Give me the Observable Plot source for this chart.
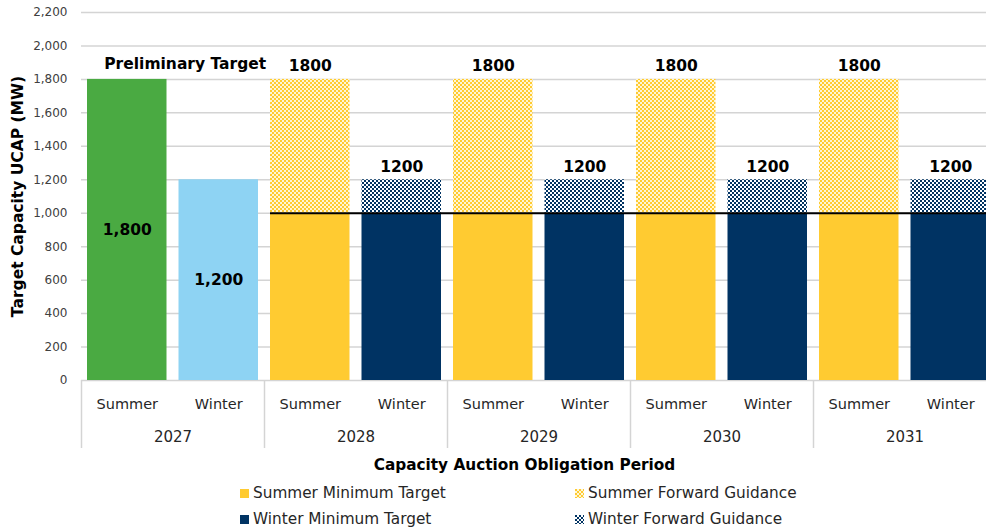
<!DOCTYPE html>
<html>
<head>
<meta charset="utf-8">
<script src="https://cdn.jsdelivr.net/npm/d3@7"></script>
<script src="https://cdn.jsdelivr.net/npm/@observablehq/plot@0.6"></script>
<style>
  html, body { margin: 0; padding: 0; background: #fff; overflow: hidden; }
  #wrap { position: relative; width: 986px; height: 529px; overflow: hidden; font-family: "DejaVu Sans", sans-serif; }
  #chart { width: 996px; height: 478px; }
  #chart svg { max-width: none !important; display: block; }
  #legend { position: absolute; left: 0; top: 478px; width: 986px; height: 51px; }
  .item { position: absolute; display: flex; align-items: center; font-size: 15.3px; color: #262626; white-space: nowrap; }
  .item svg { margin-right: 4px; }
</style>
</head>
<body>
<svg width="0" height="0" style="position:absolute">
  <defs>
    <pattern id="sumFwd" width="4" height="4" patternUnits="userSpaceOnUse">
      <rect width="4" height="4" fill="#fff6d6"/>
      <rect x="0" y="0" width="2" height="2" fill="#ffcb31"/>
      <rect x="2" y="2" width="2" height="2" fill="#ffcb31"/>
    </pattern>
    <pattern id="winFwd" width="4" height="4" patternUnits="userSpaceOnUse">
      <rect width="4" height="4" fill="#ffffff"/>
      <rect x="0" y="0" width="2" height="2" fill="#003363"/>
      <rect x="2" y="2" width="2" height="2" fill="#003363"/>
    </pattern>
  </defs>
</svg>
<div id="wrap">
  <div id="chart"></div>
  <div id="legend"></div>
</div>
<script>
// ---- data ----
const years = ["2027", "2028", "2029", "2030", "2031"];
const seasons = ["Summer", "Winter"];
const preliminary = [1800, 1200];                 // 2027 Summer, Winter
const minimumSummer = [null, 1000, 1000, 1000, 1000];
const minimumWinter = [null, 1000, 1000, 1000, 1000];
const guidanceSummer = [null, 1800, 1800, 1800, 1800];
const guidanceWinter = [null, 1200, 1200, 1200, 1200];
const minimumLine = 1000;
const yTicks = [0, 200, 400, 600, 800, 1000, 1200, 1400, 1600, 1800, 2000, 2200];
const prelimLabel = "Preliminary Target";
const yTitle = "Target Capacity UCAP (MW)";
const xTitle = "Capacity Auction Obligation Period";
const legendItems = [
  {label: "Summer Minimum Target", fill: "#ffcb31"},
  {label: "Summer Forward Guidance", fill: "url(#sumFwd)"},
  {label: "Winter Minimum Target", fill: "#003363"},
  {label: "Winter Forward Guidance", fill: "url(#winFwd)"}
];

const colors = {
  prelimSummer: "#4aaa42", prelimWinter: "#8ed3f3",
  minSummer: "#ffcb31", minWinter: "#003363",
  fwdSummer: "url(#sumFwd)", fwdWinter: "url(#winFwd)"
};
const fmt = d3.format(",");

// ---- build tables ----
const rects = [], seasonLabels = [], yearLabels = [], topLabels = [], innerLabels = [];
years.forEach((yr, yi) => {
  yearLabels.push({x: yi * 2 + 1, text: yr});
  seasons.forEach((s, si) => {
    const idx = yi * 2 + si;
    seasonLabels.push({x: idx + 0.5, text: s});
    if (yi === 0) {
      const v = preliminary[si];
      rects.push({x1: idx, x2: idx + 1, y1: 0, y2: v, fill: si ? colors.prelimWinter : colors.prelimSummer});
      innerLabels.push({x: idx + 0.5, y: v / 2, text: fmt(v)});
    } else {
      const mn = si ? minimumWinter[yi] : minimumSummer[yi];
      const tot = si ? guidanceWinter[yi] : guidanceSummer[yi];
      rects.push({x1: idx, x2: idx + 1, y1: 0, y2: mn, fill: si ? colors.minWinter : colors.minSummer});
      rects.push({x1: idx, x2: idx + 1, y1: mn, y2: tot, fill: si ? colors.fwdWinter : colors.fwdSummer});
      topLabels.push({x: idx + 0.5, y: tot, text: String(tot)});
    }
  });
});
const boundaries = years.map((_, i) => i * 2).concat([years.length * 2]);

const chart = Plot.plot({
  width: 996,
  height: 478,
  marginLeft: 81,
  marginRight: 0,
  marginTop: 12,
  marginBottom: 98,
  style: {fontFamily: "DejaVu Sans, sans-serif", fontSize: "14.5px", color: "#262626", background: "transparent", maxWidth: "none"},
  x: {type: "linear", domain: [0, 10], axis: null},
  y: {domain: [0, 2200], axis: null},
  color: {type: "identity"},
  marks: [
    Plot.gridY(yTicks, {stroke: "#d4d4d4", strokeOpacity: 1, strokeWidth: 1.5}),
    Plot.axisY({ticks: yTicks, tickFormat: fmt, tickSize: 0, tickPadding: 14, fontSize: 12, label: null, fill: "#404040"}),
    Plot.rectY(rects, {x1: "x1", x2: "x2", y1: "y1", y2: "y2", fill: "fill", insetLeft: 6, insetRight: 6}),
    Plot.ruleY([minimumLine], {x1: 2, x2: 10, insetLeft: 6, stroke: "#000", strokeWidth: 2}),
    Plot.ruleX(boundaries, {x: d => d, y1: 0, y2: 0, insetBottom: -68, stroke: "#d4d4d4", strokeWidth: 1.5}),
    Plot.text(seasonLabels, {x: "x", y: () => 0, text: "text", dy: 24, fontSize: 14.5, fill: "#262626"}),
    Plot.text(yearLabels, {x: "x", y: () => 0, text: "text", dy: 57, fontSize: 15, fill: "#262626"}),
    Plot.text(topLabels, {x: "x", y: "y", text: "text", dy: -13, fontSize: 15.5, fontWeight: "bold", fill: "#000"}),
    Plot.text(innerLabels, {x: "x", y: "y", text: "text", fontSize: 15.5, fontWeight: "bold", fill: "#000"}),
    Plot.text([prelimLabel], {x: () => 0.5, y: () => preliminary[0], text: d => d, textAnchor: "start", dx: -23, dy: -15.5, fontSize: 15.5, fontWeight: "bold", fill: "#000"}),
    Plot.text([yTitle], {frameAnchor: "left", text: d => d, rotate: -90, textAnchor: "middle", lineAnchor: "middle", dx: -63, fontSize: 15.5, fontWeight: "bold", fill: "#000"}),
    Plot.text([xTitle], {frameAnchor: "bottom", text: d => d, textAnchor: "middle", lineAnchor: "middle", dx: -14.5, dy: 85, fontSize: 15.3, fontWeight: "bold", fill: "#000"})
  ]
});
document.getElementById("chart").appendChild(chart);

// ---- legend ----
const legend = document.getElementById("legend");
const pos = [[240, 15], [575, 15], [240, 41], [575, 41]];
legendItems.forEach((it, i) => {
  const d = document.createElement("div");
  d.className = "item";
  d.style.left = pos[i][0] + "px";
  d.style.top = (pos[i][1] - 10) + "px";
  d.style.height = "20px";
  d.innerHTML = `<svg width="9" height="9"><rect width="9" height="9" fill="${it.fill}"/></svg><span>${it.label}</span>`;
  legend.appendChild(d);
});
</script>
</body>
</html>
